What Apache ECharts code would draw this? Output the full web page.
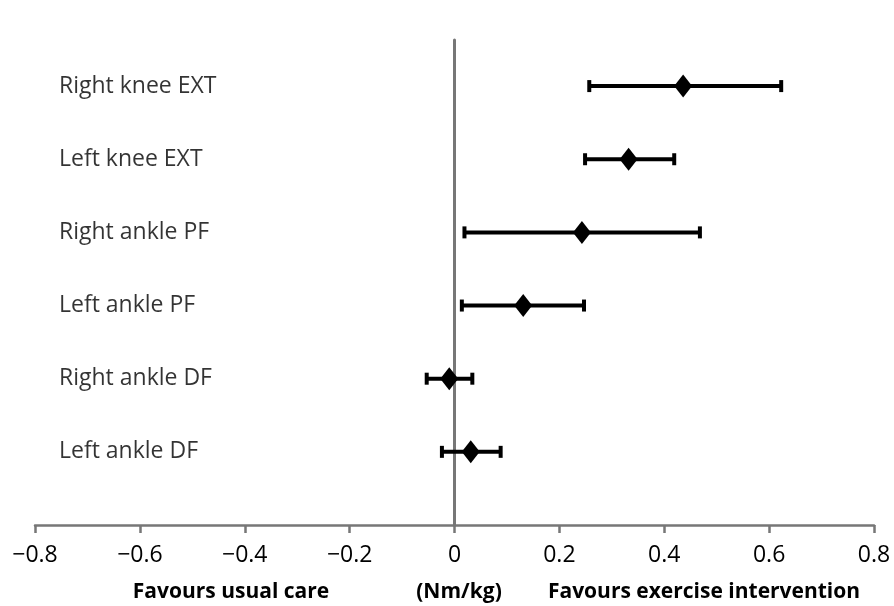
<!DOCTYPE html>
<html><head><meta charset="utf-8">
<script src="https://cdn.jsdelivr.net/npm/echarts@6/dist/echarts.min.js"></script>
<style>html,body{margin:0;padding:0;background:#fff}#c{width:894px;height:606px}</style>
</head><body><div id="c"></div>
<script>
const categories = ['Right knee EXT','Left knee EXT','Right ankle PF','Left ankle PF','Right ankle DF','Left ankle DF'];
const rowPos = [6,5,4,3,2,1];
const estimates = [0.436, 0.332, 0.243, 0.131, -0.010, 0.031];
const lowerCI = [0.257, 0.249, 0.019, 0.014, -0.053, -0.024];
const upperCI = [0.623, 0.419, 0.468, 0.247, 0.034, 0.088];
const xTicks = [-0.8,-0.6,-0.4,-0.2,0,0.2,0.4,0.6,0.8];
const bottomTitles = ['Favours usual care','(Nm/kg)','Favours exercise intervention'];

const FONT = '"Open Sans"';
const chart = echarts.init(document.getElementById('c'), null, {renderer:'canvas'});
const errData = categories.map((c,i)=>[lowerCI[i], upperCI[i], rowPos[i]]);
const ptData = categories.map((c,i)=>[estimates[i], rowPos[i]]);
const labData = categories.map((c,i)=>({value:[xTicks[0], rowPos[i]], name:c}));

chart.setOption({
  animation:false,
  grid:{left:35, right:20, top:40, bottom:81, containLabel:false},
  xAxis:{type:'value', min:-0.8, max:0.8, interval:0.2,
    axisLine:{show:true, onZero:false, lineStyle:{color:'#777', width:2.5}},
    axisTick:{show:true, length:8, lineStyle:{color:'#777', width:2.5}},
    splitLine:{show:false},
    axisLabel:{margin:19, color:'#000', fontFamily:FONT, fontSize:23,
      formatter:v=>{ if (Math.abs(v)<1e-9) return '0'; const s=Math.abs(v).toFixed(1); return v<0?'\u2212'+s:s; }}
  },
  yAxis:{type:'value', min:0, max:6.63,
    axisLine:{show:true, onZero:true, lineStyle:{color:'#777', width:3}},
    axisTick:{show:false}, axisLabel:{show:false}, splitLine:{show:false}},
  graphic:[
    {type:'text', style:{text:bottomTitles[0], x:231, y:592, align:'center', verticalAlign:'middle', font:'bold 21px '+FONT, fill:'#000'}},
    {type:'text', style:{text:bottomTitles[1], x:459, y:592, align:'center', verticalAlign:'middle', font:'bold 21px '+FONT, fill:'#000'}},
    {type:'text', style:{text:bottomTitles[2], x:704, y:592, align:'center', verticalAlign:'middle', font:'bold 21px '+FONT, fill:'#000'}}
  ],
  series:[
    {type:'custom', data:errData, z:3,
      renderItem:(params, api)=>{
        const p1 = api.coord([api.value(0), api.value(2)]);
        const p2 = api.coord([api.value(1), api.value(2)]);
        const h = 6;
        return {type:'group', children:[
          {type:'line', shape:{x1:p1[0], y1:p1[1], x2:p2[0], y2:p2[1]}, style:{stroke:'#000', lineWidth:4}},
          {type:'line', shape:{x1:p1[0], y1:p1[1]-h, x2:p1[0], y2:p1[1]+h}, style:{stroke:'#000', lineWidth:4}},
          {type:'line', shape:{x1:p2[0], y1:p2[1]-h, x2:p2[0], y2:p2[1]+h}, style:{stroke:'#000', lineWidth:4}}
        ]};
      }},
    {type:'scatter', data:ptData, symbol:'diamond', symbolSize:[18,23], z:4,
      itemStyle:{color:'#000', opacity:1}},
    {type:'scatter', data:labData, symbolSize:0, z:5, silent:true,
      label:{show:true, position:'right', distance:24, formatter:p=>p.name,
        fontFamily:FONT, fontSize:23, color:'#000'}}
  ]
});
</script></body></html>
